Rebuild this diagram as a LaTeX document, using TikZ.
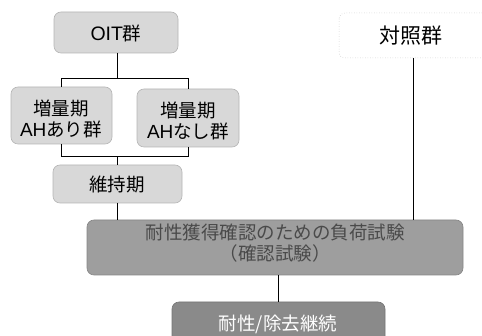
\documentclass[tikz,border=0pt]{standalone}
\usepackage{fontspec}
\setmainfont{Noto Sans CJK JP}
\newfontfamily\latfont{Liberation Sans}
\definecolor{lightbox}{HTML}{D8D8D8}
\definecolor{lightedge}{HTML}{B5B5B5}
\definecolor{midbox}{HTML}{9E9E9E}
\definecolor{midtext}{HTML}{4A4A4A}
\definecolor{darkbox}{HTML}{8A8A8A}
\begin{document}
\begin{tikzpicture}[x=1pt,y=-1pt,
  txt/.style={font=\fontsize{18.5}{21}\selectfont, align=center, inner sep=0pt},
  lightnode/.style={draw=lightedge, fill=lightbox, rounded corners=7pt, line width=0.6pt},
  conn/.style={draw=black, line width=1pt}]
\useasboundingbox (0,0) rectangle (482,336);
\clip (0,0) rectangle (482,336);
% boxes
\draw[lightnode] (54,12) rectangle (178,53);
\node[txt] (oit) at (116,33) {{\latfont\fontsize{19.5}{21}\selectfont OIT}群};
\draw[lightnode] (11,87) rectangle (112,144);
\node[txt] (left) at (61,119) {増量期\\{\latfont\fontsize{19}{21}\selectfont AH}あり群};
\draw[lightnode] (137,89) rectangle (239,147);
\node[txt] (right) at (188,120.5) {増量期\\{\latfont\fontsize{19}{21}\selectfont AH}なし群};
\draw[lightnode] (53,165) rectangle (182,203);
\node[txt] (ijiki) at (117,185) {維持期};
\draw[draw=lightedge, dotted, fill=white, rounded corners=6pt, line width=0.5pt] (339,13) rectangle (495,58);
\node[txt, font=\fontsize{21}{23}\selectfont] (taisho) at (411,36) {対照群};
\draw[fill=midbox, draw=midbox!85!black, rounded corners=7pt, line width=0.6pt] (87,220) rectangle (463,275);
\node[txt, text=midtext] (big) at (275,243) {耐性獲得確認のための負荷試験\\（確認試験）};
\draw[fill=darkbox, draw=darkbox!85!black, rounded corners=7pt, line width=0.6pt] (172,302) rectangle (385,350);
\node[txt, text=white] (final) at (278,324) {耐性/除去継続};
% connector coordinates
\coordinate (oitB) at (117,53);
\coordinate (barTm) at (117,79);
\coordinate (barTl) at (61,79);
\coordinate (barTr) at (188,79);
\coordinate (leftT) at (61,87);
\coordinate (rightT) at (188,89);
\coordinate (leftB) at (61,144);
\coordinate (rightB) at (188,147);
\coordinate (barBl) at (61,157);
\coordinate (barBr) at (188,157);
\coordinate (barBm) at (117,157);
\coordinate (ijikiT) at (117,165);
\coordinate (ijikiB) at (117,203);
\coordinate (bigTl) at (117,220);
\coordinate (taishoB) at (413,58);
\coordinate (bigTr) at (413,220);
\coordinate (bigB) at (278,275);
\coordinate (finalT) at (278,302);
% connectors
\draw[conn] (oitB) -- (barTm);
\draw[conn] (leftT) -- (barTl) -- (barTr) -- (rightT);
\draw[conn] (leftB) -- (barBl) -- (barBr) -- (rightB);
\draw[conn] (barBm) -- (ijikiT);
\draw[conn] (ijikiB) -- (bigTl);
\draw[conn] (taishoB) -- (bigTr);
\draw[conn] (bigB) -- (finalT);
\end{tikzpicture}
\end{document}
